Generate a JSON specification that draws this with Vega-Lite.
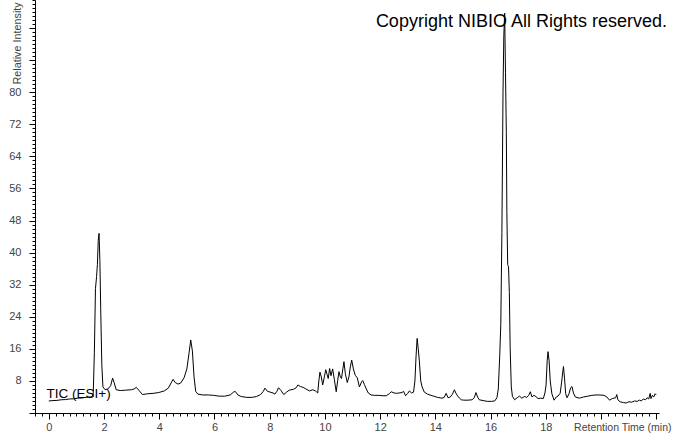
{
  "$schema": "https://vega.github.io/schema/vega-lite/v6.json",
  "width": 624,
  "height": 413,
  "autosize": "none",
  "padding": {"left": 35, "top": 0, "right": 14, "bottom": 20},
  "background": "white",
  "config": {"view": {"stroke": null}, "font": "Liberation Sans"},
  "title": {
    "text": "Copyright NIBIO All Rights reserved.",
    "anchor": "end",
    "frame": "group",
    "orient": "top",
    "fontSize": 18,
    "font": "Liberation Sans",
    "fontWeight": "normal",
    "color": "black",
    "baseline": "alphabetic",
    "offset": -45,
    "dx": 8
  },
  "datasets": {
    "tic": [
      {"time":0.00,"intensity":3.0},{"time":0.15,"intensity":3.1},{"time":0.30,"intensity":3.15},{"time":0.45,"intensity":3.3},{"time":0.60,"intensity":3.35},{"time":0.75,"intensity":3.5},{"time":0.90,"intensity":3.55},{"time":1.05,"intensity":3.7},{"time":1.20,"intensity":3.75},{"time":1.35,"intensity":3.9},{"time":1.50,"intensity":4.0},{"time":1.57,"intensity":4.1},{"time":1.61,"intensity":5.0},{"time":1.65,"intensity":15.0},{"time":1.69,"intensity":31.0},{"time":1.73,"intensity":34.0},{"time":1.76,"intensity":37.0},{"time":1.79,"intensity":43.0},{"time":1.82,"intensity":44.8},{"time":1.85,"intensity":38.0},{"time":1.88,"intensity":26.0},{"time":1.92,"intensity":12.0},{"time":1.96,"intensity":6.5},{"time":2.04,"intensity":5.8},{"time":2.14,"intensity":6.0},{"time":2.24,"intensity":6.8},{"time":2.31,"intensity":8.7},{"time":2.37,"intensity":7.5},{"time":2.44,"intensity":5.8},{"time":2.59,"intensity":5.6},{"time":2.79,"intensity":5.7},{"time":2.99,"intensity":5.8},{"time":3.09,"intensity":6.0},{"time":3.17,"intensity":6.4},{"time":3.27,"intensity":5.6},{"time":3.39,"intensity":4.6},{"time":3.58,"intensity":4.8},{"time":3.78,"intensity":4.9},{"time":3.98,"intensity":5.1},{"time":4.18,"intensity":5.5},{"time":4.33,"intensity":6.2},{"time":4.43,"intensity":7.5},{"time":4.50,"intensity":8.4},{"time":4.58,"intensity":7.6},{"time":4.68,"intensity":7.2},{"time":4.78,"intensity":7.5},{"time":4.90,"intensity":8.8},{"time":5.00,"intensity":11.0},{"time":5.08,"intensity":15.0},{"time":5.14,"intensity":18.2},{"time":5.20,"intensity":15.5},{"time":5.26,"intensity":9.0},{"time":5.32,"intensity":5.4},{"time":5.40,"intensity":4.7},{"time":5.58,"intensity":4.5},{"time":5.78,"intensity":4.5},{"time":5.97,"intensity":4.4},{"time":6.17,"intensity":4.2},{"time":6.37,"intensity":4.2},{"time":6.57,"intensity":4.5},{"time":6.69,"intensity":5.2},{"time":6.75,"intensity":5.4},{"time":6.85,"intensity":4.5},{"time":6.97,"intensity":4.1},{"time":7.17,"intensity":3.9},{"time":7.37,"intensity":3.9},{"time":7.52,"intensity":4.1},{"time":7.67,"intensity":4.6},{"time":7.77,"intensity":5.4},{"time":7.83,"intensity":6.2},{"time":7.92,"intensity":5.4},{"time":8.02,"intensity":5.2},{"time":8.12,"intensity":5.0},{"time":8.19,"intensity":4.7},{"time":8.26,"intensity":5.4},{"time":8.32,"intensity":6.3},{"time":8.41,"intensity":5.6},{"time":8.51,"intensity":4.6},{"time":8.61,"intensity":5.2},{"time":8.71,"intensity":5.7},{"time":8.86,"intensity":5.9},{"time":8.96,"intensity":6.3},{"time":9.02,"intensity":7.0},{"time":9.11,"intensity":6.6},{"time":9.21,"intensity":6.4},{"time":9.31,"intensity":6.0},{"time":9.44,"intensity":5.5},{"time":9.56,"intensity":5.8},{"time":9.66,"intensity":5.5},{"time":9.74,"intensity":5.0},{"time":9.78,"intensity":8.0},{"time":9.82,"intensity":10.2},{"time":9.87,"intensity":9.0},{"time":9.92,"intensity":7.0},{"time":9.98,"intensity":9.0},{"time":10.03,"intensity":10.8},{"time":10.08,"intensity":9.6},{"time":10.12,"intensity":8.6},{"time":10.17,"intensity":11.1},{"time":10.22,"intensity":9.3},{"time":10.28,"intensity":11.0},{"time":10.34,"intensity":8.4},{"time":10.41,"intensity":5.3},{"time":10.46,"intensity":8.0},{"time":10.51,"intensity":10.3},{"time":10.56,"intensity":9.0},{"time":10.60,"intensity":8.6},{"time":10.65,"intensity":11.0},{"time":10.69,"intensity":12.8},{"time":10.74,"intensity":9.8},{"time":10.81,"intensity":7.6},{"time":10.87,"intensity":9.0},{"time":10.92,"intensity":11.5},{"time":10.97,"intensity":13.2},{"time":11.03,"intensity":11.0},{"time":11.10,"intensity":9.4},{"time":11.17,"intensity":8.8},{"time":11.25,"intensity":6.5},{"time":11.33,"intensity":7.8},{"time":11.37,"intensity":8.1},{"time":11.43,"intensity":7.1},{"time":11.50,"intensity":6.0},{"time":11.57,"intensity":5.0},{"time":11.67,"intensity":4.5},{"time":11.80,"intensity":4.4},{"time":11.95,"intensity":4.4},{"time":12.10,"intensity":4.3},{"time":12.22,"intensity":4.3},{"time":12.33,"intensity":4.8},{"time":12.40,"intensity":5.3},{"time":12.50,"intensity":5.0},{"time":12.59,"intensity":4.9},{"time":12.69,"intensity":5.0},{"time":12.79,"intensity":5.1},{"time":12.85,"intensity":5.4},{"time":12.92,"intensity":4.3},{"time":13.00,"intensity":4.9},{"time":13.06,"intensity":5.5},{"time":13.14,"intensity":5.0},{"time":13.21,"intensity":5.2},{"time":13.26,"intensity":8.0},{"time":13.30,"intensity":14.0},{"time":13.34,"intensity":18.6},{"time":13.38,"intensity":16.0},{"time":13.42,"intensity":13.0},{"time":13.47,"intensity":8.0},{"time":13.52,"intensity":6.5},{"time":13.60,"intensity":5.2},{"time":13.72,"intensity":4.7},{"time":13.84,"intensity":4.4},{"time":13.94,"intensity":4.2},{"time":14.08,"intensity":3.9},{"time":14.24,"intensity":3.7},{"time":14.32,"intensity":3.9},{"time":14.39,"intensity":4.9},{"time":14.46,"intensity":3.8},{"time":14.54,"intensity":4.0},{"time":14.62,"intensity":4.7},{"time":14.69,"intensity":5.8},{"time":14.74,"intensity":5.0},{"time":14.82,"intensity":4.1},{"time":14.94,"intensity":3.3},{"time":15.03,"intensity":3.2},{"time":15.18,"intensity":3.2},{"time":15.33,"intensity":3.3},{"time":15.41,"intensity":3.8},{"time":15.47,"intensity":5.1},{"time":15.53,"intensity":4.0},{"time":15.59,"intensity":3.3},{"time":15.73,"intensity":3.1},{"time":15.88,"intensity":2.9},{"time":16.03,"intensity":2.9},{"time":16.15,"intensity":3.0},{"time":16.23,"intensity":3.8},{"time":16.28,"intensity":6.0},{"time":16.33,"intensity":14.0},{"time":16.37,"intensity":22.0},{"time":16.41,"intensity":45.0},{"time":16.45,"intensity":80.0},{"time":16.48,"intensity":94.0},{"time":16.51,"intensity":99.7},{"time":16.54,"intensity":85.0},{"time":16.57,"intensity":70.0},{"time":16.59,"intensity":50.0},{"time":16.62,"intensity":37.0},{"time":16.65,"intensity":36.5},{"time":16.68,"intensity":30.0},{"time":16.71,"intensity":16.0},{"time":16.75,"intensity":6.5},{"time":16.79,"intensity":4.2},{"time":16.87,"intensity":3.3},{"time":16.98,"intensity":3.9},{"time":17.05,"intensity":4.2},{"time":17.13,"intensity":3.7},{"time":17.23,"intensity":4.1},{"time":17.31,"intensity":3.9},{"time":17.38,"intensity":4.4},{"time":17.44,"intensity":5.3},{"time":17.50,"intensity":4.0},{"time":17.57,"intensity":4.4},{"time":17.64,"intensity":4.1},{"time":17.72,"intensity":3.6},{"time":17.82,"intensity":3.7},{"time":17.91,"intensity":3.6},{"time":17.97,"intensity":5.0},{"time":18.01,"intensity":7.0},{"time":18.05,"intensity":13.0},{"time":18.08,"intensity":15.3},{"time":18.12,"intensity":13.0},{"time":18.16,"intensity":8.0},{"time":18.22,"intensity":4.8},{"time":18.30,"intensity":3.2},{"time":18.38,"intensity":4.0},{"time":18.44,"intensity":4.2},{"time":18.52,"intensity":4.9},{"time":18.57,"intensity":7.5},{"time":18.61,"intensity":10.0},{"time":18.64,"intensity":11.6},{"time":18.68,"intensity":8.5},{"time":18.72,"intensity":4.8},{"time":18.77,"intensity":3.8},{"time":18.84,"intensity":4.8},{"time":18.90,"intensity":6.3},{"time":18.95,"intensity":6.6},{"time":19.00,"intensity":5.0},{"time":19.07,"intensity":4.0},{"time":19.22,"intensity":3.7},{"time":19.37,"intensity":4.0},{"time":19.52,"intensity":4.2},{"time":19.67,"intensity":4.4},{"time":19.82,"intensity":4.5},{"time":19.96,"intensity":4.5},{"time":20.11,"intensity":4.4},{"time":20.21,"intensity":4.0},{"time":20.31,"intensity":3.2},{"time":20.41,"intensity":3.6},{"time":20.53,"intensity":3.8},{"time":20.57,"intensity":4.6},{"time":20.61,"intensity":3.3},{"time":20.69,"intensity":2.8},{"time":20.81,"intensity":2.6},{"time":20.91,"intensity":2.5},{"time":21.01,"intensity":2.8},{"time":21.11,"intensity":2.7},{"time":21.21,"intensity":3.0},{"time":21.31,"intensity":2.9},{"time":21.39,"intensity":3.2},{"time":21.46,"intensity":3.0},{"time":21.53,"intensity":3.5},{"time":21.61,"intensity":3.3},{"time":21.67,"intensity":3.8},{"time":21.73,"intensity":3.5},{"time":21.78,"intensity":4.9},{"time":21.81,"intensity":3.6},{"time":21.86,"intensity":4.4},{"time":21.91,"intensity":4.0},{"time":21.96,"intensity":4.8},{"time":22.00,"intensity":4.5}
    ],
    "label": [{"time": -0.08, "intensity": 3.7, "text": "TIC (ESI+)"}]
  },
  "resolve": {"axis": {"x": "independent", "y": "independent"}},
  "layer": [
    {
      "data": {"name": "tic"},
      "mark": {"type": "line", "color": "black", "strokeWidth": 1, "interpolate": "linear"},
      "encoding": {
        "x": {
          "field": "time", "type": "quantitative",
          "scale": {"domain": [-0.5, 22.1], "nice": false, "zero": false},
          "axis": {
            "orient": "bottom",
            "values": [0,2,4,6,8,10,12,14,16,18,20,22],
            "labelExpr": "datum.value >= 20 ? '' : datum.label",
            "title": "Retention Time (min)",
            "titleAnchor": "end",
            "titleAlign": "right",
            "titleX": 636,
            "titleY": 14,
            "titleBaseline": "middle",
            "titleFont": "Liberation Sans",
            "titleFontSize": 10.5,
            "titleFontWeight": "normal",
            "titleColor": "#444444",
            "labelFont": "Liberation Sans",
            "labelFontSize": 11,
            "labelColor": "#444444",
            "labelPadding": 2,
            "labelFlush": false,
            "labelOverlap": false,
            "tickSize": 6,
            "tickColor": "black",
            "domainColor": "black",
            "grid": false
          }
        },
        "y": {
          "field": "intensity", "type": "quantitative",
          "scale": {"domain": [0, 103], "nice": false, "zero": false},
          "axis": {
            "orient": "left",
            "values": [0,8,16,24,32,40,48,56,64,72,80,88,96],
            "labelExpr": "(datum.value > 80 || datum.value == 0) ? '' : datum.label",
            "title": "Relative Intensity",
            "titleAngle": -90,
            "titleAlign": "left",
            "titleAnchor": "end",
            "titleX": -18,
            "titleY": 84,
            "titleBaseline": "middle",
            "titleFont": "Liberation Sans",
            "titleFontSize": 10.8,
            "titleFontWeight": "normal",
            "titleColor": "#444444",
            "labelFont": "Liberation Sans",
            "labelFontSize": 11,
            "labelColor": "#444444",
            "labelPadding": 8,
            "labelFlush": false,
            "labelOverlap": false,
            "tickSize": 6,
            "tickColor": "black",
            "domainColor": "black",
            "grid": false
          }
        }
      }
    },
    {
      "data": {"name": "label"},
      "mark": {"type": "text", "align": "left", "baseline": "alphabetic", "fontSize": 13.5, "font": "Liberation Sans", "color": "black"},
      "encoding": {
        "x": {
          "field": "time", "type": "quantitative",
          "axis": {
            "orient": "bottom",
            "values": [-0.5,-0.25,0,0.25,0.5,0.75,1,1.25,1.5,1.75,2,2.25,2.5,2.75,3,3.25,3.5,3.75,4,4.25,4.5,4.75,5,5.25,5.5,5.75,6,6.25,6.5,6.75,7,7.25,7.5,7.75,8,8.25,8.5,8.75,9,9.25,9.5,9.75,10,10.25,10.5,10.75,11,11.25,11.5,11.75,12,12.25,12.5,12.75,13,13.25,13.5,13.75,14,14.25,14.5,14.75,15,15.25,15.5,15.75,16,16.25,16.5,16.75,17,17.25,17.5,17.75,18,18.25,18.5,18.75,19,19.25,19.5,19.75,20,20.25,20.5,20.75,21,21.25,21.5,21.75,22],
            "labels": false,
            "domain": false,
            "title": null,
            "tickSize": 3,
            "tickColor": "black",
            "grid": false
          }
        },
        "y": {
          "field": "intensity", "type": "quantitative",
          "axis": {
            "orient": "left",
            "values": [0,1,2,3,4,5,6,7,8,9,10,11,12,13,14,15,16,17,18,19,20,21,22,23,24,25,26,27,28,29,30,31,32,33,34,35,36,37,38,39,40,41,42,43,44,45,46,47,48,49,50,51,52,53,54,55,56,57,58,59,60,61,62,63,64,65,66,67,68,69,70,71,72,73,74,75,76,77,78,79,80,81,82,83,84,85,86,87,88,89,90,91,92,93,94,95,96,97,98,99,100,101,102,103],
            "labels": false,
            "domain": false,
            "title": null,
            "tickSize": 3,
            "tickColor": "black",
            "grid": false
          }
        },
        "text": {"field": "text"}
      }
    }
  ]
}
